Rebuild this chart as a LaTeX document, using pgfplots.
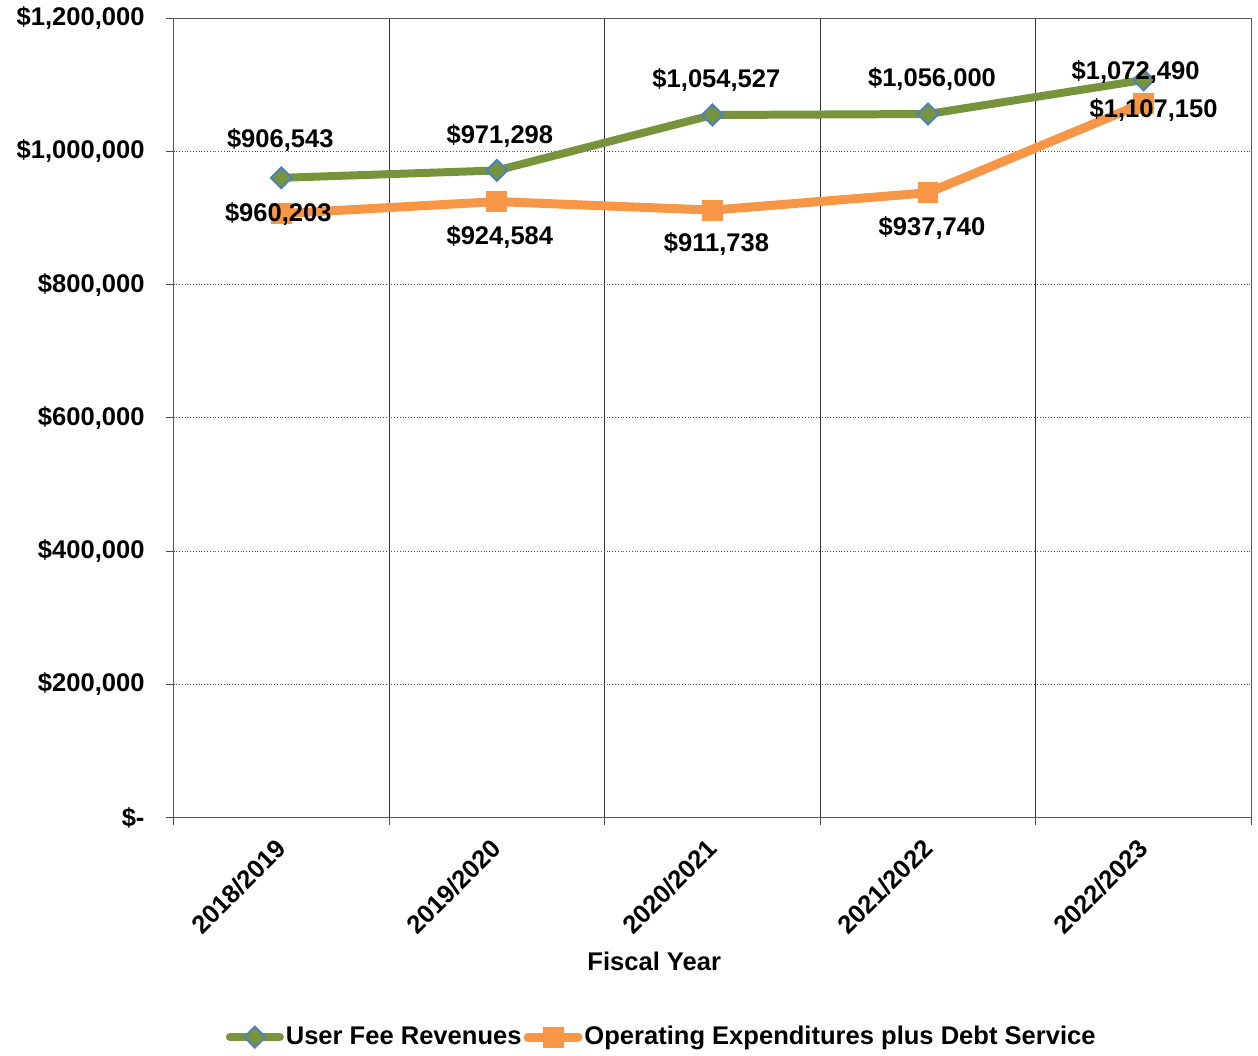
\documentclass[border=0pt]{standalone}
\usepackage{fontspec}
\setmainfont{Liberation Sans}
\usepackage{pgfplots}
\usepackage{pgfplotstable}
\pgfplotsset{compat=1.18}

\definecolor{feegreen}{HTML}{77933C}
\definecolor{costorange}{HTML}{F79646}
\definecolor{markblue}{HTML}{4F81BD}

% x = fiscal year index, labels as printed on the chart
\pgfplotstableread{
x y lab dx dy
0 960203 \$906,543 -0.5 19
1 971298 \$971,298 1.5 17.5
2 1054527 \$1,054,527 2 17.5
3 1056000 \$1,056,000 2 17.5
4 1107150 \$1,072,490 -4 4
}\revenues

\pgfplotstableread{
x y lab dx dy
0 906543 \$960,203 -1.5 0
1 924584 \$924,584 1.5 -17.5
2 911738 \$911,738 2 -17
3 937740 \$937,740 2 -17.5
4 1072490 \$1,107,150 5 -3.5
}\expenses

\pgfplotsset{
    valuelabels/.style={
        nodes near coords,
        point meta=explicit symbolic,
        visualization depends on={\thisrow{dx} \as \dx},
        visualization depends on={\thisrow{dy} \as \dy},
        nodes near coords style={anchor=center, xshift=\dx pt, yshift=\dy pt,
            text=black, font=\fontsize{12.8}{15}\selectfont\bfseries},
    },
}

\begin{document}
\begin{tikzpicture}
\begin{axis}[
    scale only axis,
    width=540pt, height=400.5pt,
    font=\fontsize{12.8}{15}\selectfont\bfseries,
    xmin=-0.5, xmax=4.5,
    ymin=0, ymax=1200000,
    axis line style={black!65},
    xtick pos=bottom, ytick pos=left,
    tick align=outside,
    major tick length=4pt,
    tick style={black!70, thin},
    xtick={-0.5,0.5,1.5,2.5,3.5,4.5},
    xticklabels={},
    extra x ticks={0,1,2,3,4},
    extra x tick labels={2018/2019,2019/2020,2020/2021,2021/2022,2022/2023},
    extra x tick style={grid=none, major tick length=0pt,
        tick label style={xshift=-3.5pt, yshift=-5pt, rotate=45, anchor=north east}},
    xmajorgrids, ymajorgrids,
    x grid style={black!80, thin, solid},
    y grid style={black!70, thin, densely dotted},
    ytick={0,200000,400000,600000,800000,1000000,1200000},
    yticklabels={{\$-},{\$200,000},{\$400,000},{\$600,000},{\$800,000},{\$1,000,000},{\$1,200,000}},
    scaled y ticks=false,
    yticklabel style={xshift=-7pt},
    xlabel={Fiscal Year},
    xlabel style={at={(axis description cs:0.446,0)}, anchor=north, yshift=-64pt},
    legend style={at={(axis description cs:0.453,0)}, anchor=center, yshift=-110pt,
        draw=none, fill=none, legend columns=2,
        nodes={inner xsep=1pt}},
    legend image code/.code={
        \draw[mark repeat=2, mark phase=2, line cap=round]
            plot coordinates {(0pt,0pt) (12.5pt,0pt) (25pt,0pt)};},
]
\addplot[feegreen, line width=4pt, mark=square*,
    mark options={solid, rotate=45, fill=feegreen, draw=markblue, line width=1pt},
    mark size=3.7pt, valuelabels]
    table[x=x, y=y, meta=lab] {\revenues};
\addlegendentry{User Fee Revenues}

\addplot[costorange, line width=4.5pt, mark=square*,
    mark options={solid, fill=costorange, draw=costorange, line width=0pt},
    mark size=5pt, valuelabels]
    table[x=x, y=y, meta=lab] {\expenses};
\addlegendentry{Operating Expenditures plus Debt Service}
\end{axis}
% a little white margin on the left, as in the original
\path (current bounding box.west) ++(-5pt,0) coordinate (padleft);
\end{tikzpicture}
\end{document}
